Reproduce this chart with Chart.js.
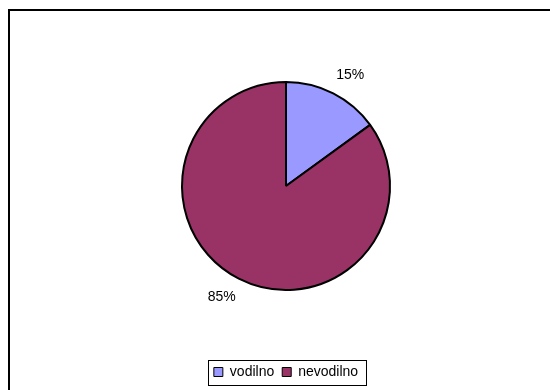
<!DOCTYPE html>
<html>
<head>
<meta charset="utf-8">
<script src="https://cdn.jsdelivr.net/npm/chart.js@4/dist/chart.umd.min.js"></script>
<style>
  html, body { margin: 0; padding: 0; background: #fff; }
  #wrap { width: 550px; height: 390px; }
</style>
</head>
<body>
<div id="wrap"><canvas id="pieChart" width="550" height="390"></canvas></div>
<script>
// podatki
const categories = ['vodilno', 'nevodilno'];
const shares = [15, 85];
const sliceColors = ['#9999FF', '#993366'];

// okvir (samo zgornja in leva črta sta vidni)
const frame = {
  id: 'frame',
  beforeDraw(chart) {
    const ctx = chart.ctx;
    ctx.save();
    ctx.strokeStyle = '#000';
    ctx.lineWidth = 2;
    ctx.strokeRect(9, 10, 700, 500);
    ctx.restore();
  }
};

// odstotki ob izsekih
const sliceLabels = {
  id: 'sliceLabels',
  afterDatasetsDraw(chart) {
    const ctx = chart.ctx;
    const meta = chart.getDatasetMeta(0);
    ctx.save();
    ctx.font = '14px Arial, "Liberation Sans", sans-serif';
    ctx.fillStyle = '#000';
    ctx.textAlign = 'center';
    ctx.textBaseline = 'middle';
    meta.data.forEach((arc, i) => {
      const mid = (arc.startAngle + arc.endAngle) / 2 + 0.055;
      const r = arc.outerRadius + 24;
      ctx.fillText(shares[i] + '%', arc.x + Math.cos(mid) * r, arc.y + Math.sin(mid) * r);
    });
    ctx.restore();
  }
};

// okvir okrog legende
const legendBox = {
  id: 'legendBox',
  afterDraw(chart) {
    const boxes = chart.legend.legendHitBoxes;
    if (!boxes || !boxes.length) return;
    const left = Math.min(...boxes.map(b => b.left)) - 6;
    const right = Math.max(...boxes.map(b => b.left + b.width)) + 8;
    const top = Math.min(...boxes.map(b => b.top)) - 5;
    const bottom = Math.max(...boxes.map(b => b.top + b.height)) + 6;
    const ctx = chart.ctx;
    ctx.save();
    ctx.strokeStyle = '#000';
    ctx.lineWidth = 1;
    ctx.strokeRect(Math.round(left) + 0.5, Math.round(top) + 0.5, Math.round(right - left), Math.round(bottom - top));
    ctx.restore();
  }
};

new Chart(document.getElementById('pieChart'), {
  type: 'pie',
  data: {
    labels: categories,
    datasets: [{
      data: shares,
      backgroundColor: sliceColors,
      borderColor: '#000',
      borderWidth: 2
    }]
  },
  options: {
    responsive: false,
    animation: false,
    radius: 104,
    layout: { padding: { top: 15, bottom: 1, left: 22, right: 0 } },
    plugins: {
      tooltip: { enabled: false },
      legend: {
        position: 'bottom',
        labels: {
          color: '#000',
          boxWidth: 9,
          boxHeight: 9,
          padding: 8,
          font: { family: 'Arial, "Liberation Sans", sans-serif', size: 14 },
          generateLabels(chart) {
            return categories.map((c, i) => ({
              text: c,
              fillStyle: sliceColors[i],
              strokeStyle: '#000',
              lineWidth: 1,
              fontColor: '#000',
              index: i
            }));
          }
        }
      }
    }
  },
  plugins: [frame, sliceLabels, legendBox]
});
</script>
</body>
</html>
